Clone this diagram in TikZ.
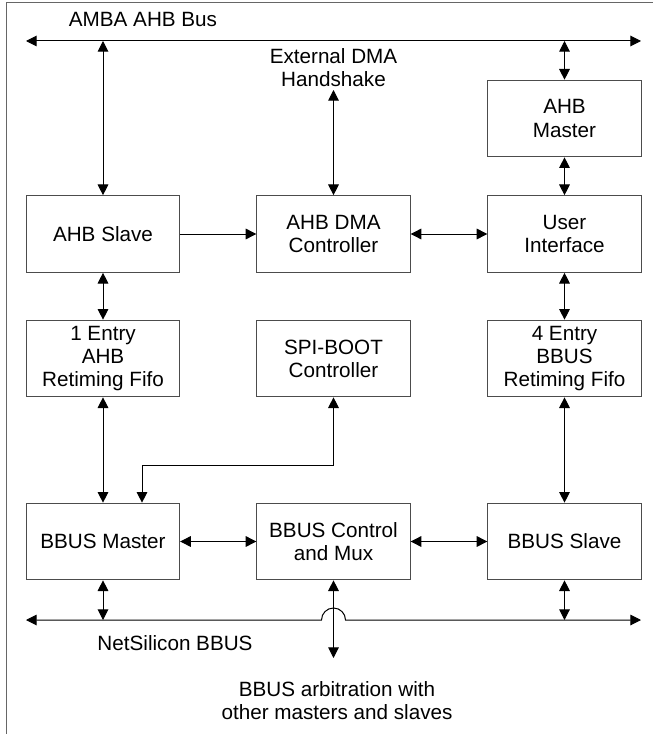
\documentclass[tikz,border=0pt]{standalone}
\usepackage{fontspec}
\setmainfont{Liberation Sans}
\usetikzlibrary{arrows.meta}

\tikzset{every picture/.style={line width=0.75pt}}

\begin{document}
\begin{tikzpicture}[x=0.75pt,y=0.75pt,yscale=-1,xscale=1,
  >={Triangle[length=8pt,width=8pt]},
  blk/.style={draw=black!70,minimum width=115pt,minimum height=57.5pt,inner sep=0pt,align=center,font=\fontsize{15.5}{17.3}\selectfont},
  lbl/.style={align=center,inner sep=0pt,font=\fontsize{15.5}{17.3}\selectfont}]
%set diagram size 653 x 734
\useasboundingbox (0,0) rectangle (653,734);

%Frame
\draw [black!60] (6,734) -- (6,3) -- (653,3) ;

%Bus ends
\coordinate (ahbL) at (26,41);
\coordinate (ahbR) at (641,41);
\coordinate (bbL) at (26,620);
\coordinate (bbR) at (641,620);

%Shape: Rectangle
\node [blk] (ahbmaster) at (564.5,118.5) {AHB\\Master};
%Shape: Rectangle
\node [blk] (ahbslave) at (103,234) {AHB Slave};
%Shape: Rectangle
\node [blk] (dmactl) at (333.5,234) {AHB DMA\\Controller};
%Shape: Rectangle
\node [blk] (userif) at (564.5,234) {User\\Interface};
%Shape: Rectangle
\node [blk] (ahbfifo) at (103,358.5) {1 Entry\\AHB\\Retiming Fifo};
%Shape: Rectangle
\node [blk] (spiboot) at (333.5,358.5) {SPI-BOOT\\Controller};
%Shape: Rectangle
\node [blk] (bbfifo) at (564.5,358.5) {4 Entry\\BBUS\\Retiming Fifo};
%Shape: Rectangle
\node [blk] (bbmaster) at (103,541.5) {BBUS Master};
%Shape: Rectangle
\node [blk] (bbctl) at (333.5,541.5) {BBUS Control\\and Mux};
%Shape: Rectangle
\node [blk] (bbslave) at (564.5,541.5) {BBUS Slave};

% Text Node
\node [lbl] (ahbtxt) at (143,19) {AMBA AHB Bus};
% Text Node
\node [lbl] (exttxt) at (333.5,68) {External DMA\\Handshake};
% Text Node
\node [lbl] (bbtxt) at (175,643) {NetSilicon BBUS};
% Text Node
\node [lbl] (arbtxt) at (337,701) {BBUS arbitration with\\other masters and slaves};
\coordinate (arb) at (333.5,658);
\coordinate (ext) at (333.5,90);

%AMBA AHB bus
\draw [<->] (ahbL) -- (ahbR) ;
%NetSilicon BBUS with crossing
\draw [<->] (bbL) -- (321.5,620) arc [start angle=180,end angle=360,radius=12] -- (bbR) ;

%Links
\draw [<->] (ahbslave.north |- ahbL) -- (ahbslave.north) ;
\draw [<->] (ahbmaster.north |- ahbL) -- (ahbmaster.north) ;
\draw [<->] (ahbmaster) -- (userif) ;
\draw [<->] (ext) -- (dmactl) ;
\draw [->] (ahbslave) -- (dmactl) ;
\draw [<->] (dmactl) -- (userif) ;
\draw [<->] (ahbslave) -- (ahbfifo) ;
\draw [<->] (userif) -- (bbfifo) ;
\draw [<->] (ahbfifo) -- (bbmaster) ;
\draw [<->] (bbfifo) -- (bbslave) ;
\draw [<->] (spiboot.south) -- (333.5,465) -- (142,465) -- (bbmaster.north -| 142,0) ;
\draw [<->] (bbmaster) -- (bbctl) ;
\draw [<->] (bbctl) -- (bbslave) ;
\draw [<->] (bbmaster.south) -- (bbmaster.south |- bbL) ;
\draw [<->] (bbslave.south) -- (bbslave.south |- bbL) ;
\draw [<->] (bbctl.south) -- (arb) ;

\end{tikzpicture}
\end{document}
